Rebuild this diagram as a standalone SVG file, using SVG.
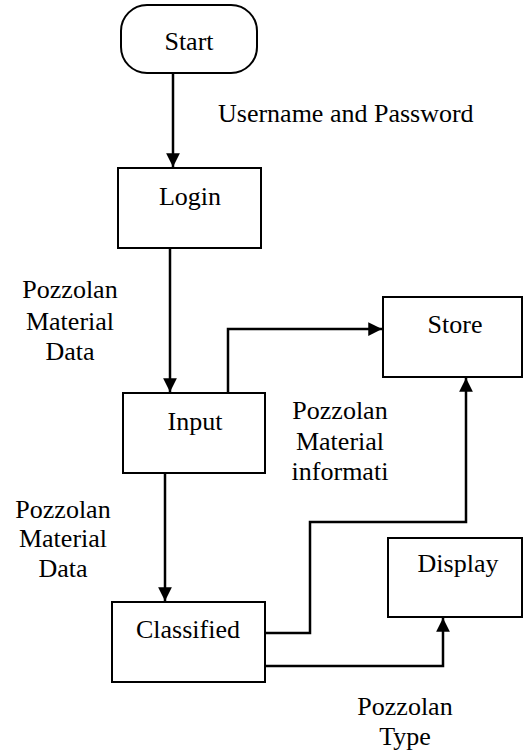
<svg xmlns="http://www.w3.org/2000/svg" width="524" height="753" viewBox="0 0 524 753">
<style>
.box{fill:#fff;stroke:#000;stroke-width:2}
text{font-family:'Liberation Serif','Times New Roman',Times,'DejaVu Serif',serif;font-size:26px;fill:#000;text-anchor:middle}
.c{fill:none;stroke:#000;stroke-width:2.5}
</style>
<defs>
<marker id="ah" viewBox="0 0 10 10" refX="10" refY="5" markerWidth="5.5" markerHeight="5.5" orient="auto" markerUnits="strokeWidth">
<path d="M0,0 L10,5 L0,10 z" fill="#000"/>
</marker>
</defs>
<rect width="524" height="753" fill="#fff"/>
<g id="connectors">
<path class="c" d="M173,73 V167" marker-end="url(#ah)"/>
<path class="c" d="M170,248 V392" marker-end="url(#ah)"/>
<path class="c" d="M228,393 V329 H382" marker-end="url(#ah)"/>
<path class="c" d="M165,473 V601" marker-end="url(#ah)"/>
<path class="c" d="M265,633 H310 V522 H466 V378" marker-end="url(#ah)"/>
<path class="c" d="M265,666 H443 V618" marker-end="url(#ah)"/>
</g>
<g id="start"><rect class="box" x="121" y="5" width="136" height="68" rx="26"/><text x="189" y="50" font-family="Liberation Serif, serif">Start</text></g>
<g id="login"><rect class="box" x="118" y="168" width="143" height="80"/><text x="190" y="205" font-family="Liberation Serif, serif">Login</text></g>
<g id="input"><rect class="box" x="123" y="393" width="142" height="80"/><text x="195" y="430" font-family="Liberation Serif, serif">Input</text></g>
<g id="classified"><rect class="box" x="112" y="602" width="153" height="80"/><text x="188" y="638" font-family="Liberation Serif, serif">Classified</text></g>
<g id="store"><rect class="box" x="383" y="297" width="139" height="80"/><text x="455" y="333" font-family="Liberation Serif, serif">Store</text></g>
<g id="display"><rect class="box" x="388" y="538" width="134" height="79"/><text x="458" y="572" font-family="Liberation Serif, serif">Display</text></g>
<g id="labels" font-family="Liberation Serif, serif">
<text x="218" y="122" style="text-anchor:start">Username and Password</text>
<text><tspan x="70" y="298">Pozzolan</tspan><tspan x="70" y="330">Material</tspan><tspan x="70" y="360">Data</tspan></text>
<text><tspan x="63" y="518">Pozzolan</tspan><tspan x="63" y="547">Material</tspan><tspan x="63" y="577">Data</tspan></text>
<text><tspan x="340" y="419">Pozzolan</tspan><tspan x="340" y="450">Material</tspan><tspan x="340" y="480">informati</tspan></text>
<text><tspan x="405" y="715">Pozzolan</tspan><tspan x="405" y="745">Type</tspan></text>
</g>
</svg>
